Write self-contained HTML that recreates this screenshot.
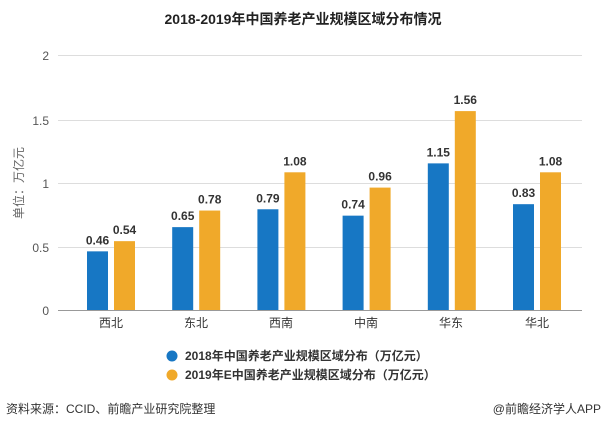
<!DOCTYPE html><html><head><meta charset="utf-8"><style>
body{margin:0;width:607px;height:430px;background:#fff;overflow:hidden;font-family:"Liberation Sans","Noto Sans CJK SC",sans-serif}
</style></head><body>
<svg width="607" height="430" xmlns="http://www.w3.org/2000/svg" font-family="Liberation Sans, Noto Sans CJK SC, sans-serif">
<text x="303" y="24" text-anchor="middle" font-size="14" font-weight="bold" fill="#222">2018-2019年中国养老产业规模区域分布情况</text>
<g stroke="#ddd" stroke-width="1">
<line x1="58" y1="55.5" x2="582" y2="55.5"/><line x1="58" y1="120.5" x2="582" y2="120.5"/><line x1="58" y1="183.5" x2="582" y2="183.5"/><line x1="58" y1="247.5" x2="582" y2="247.5"/>
</g>
<line x1="58" y1="310.5" x2="582" y2="310.5" stroke="#999"/>
<g font-size="12" fill="#555" text-anchor="end">
<text x="49" y="60">2</text><text x="49" y="125">1.5</text><text x="49" y="188">1</text><text x="49" y="252">0.5</text><text x="49" y="315">0</text>
</g>
<text transform="translate(23,183) rotate(-90)" text-anchor="middle" font-size="12" fill="#666">单位：万亿元</text>
<g id="bars"></g>
<g font-size="12" fill="#333" text-anchor="middle">
<text x="111" y="327">西北</text><text x="196" y="327">东北</text><text x="281" y="327">西南</text><text x="366" y="327">中南</text><text x="451" y="327">华东</text><text x="537" y="327">华北</text>
</g>
<circle cx="172" cy="356" r="5.5" fill="#1777c4"/><circle cx="172" cy="375" r="5.5" fill="#f0a92a"/>
<text x="185" y="360" font-size="12" font-weight="bold" fill="#333">2018年中国养老产业规模区域分布（万亿元）</text>
<text x="185" y="379" font-size="12" font-weight="bold" fill="#333">2019年E中国养老产业规模区域分布（万亿元）</text>
<text x="6" y="413" font-size="12" fill="#333">资料来源：CCID、前瞻产业研究院整理</text>
<text x="601" y="413" font-size="12" fill="#333" text-anchor="end">@前瞻经济学人APP</text>
</svg>
<script>
var d=[[0.46,0.54],[0.65,0.78],[0.79,1.08],[0.74,0.96],[1.15,1.56],[0.83,1.08]];
var g=document.getElementById('bars'),s='';
d.forEach(function(p,i){var c=111+85.2*i;[[c-24,p[0],'#1777c4'],[c+3,p[1],'#f0a92a']].forEach(function(b){var h=b[1]*127.5,y=310-h;
s+='<rect x="'+b[0]+'" y="'+y+'" width="21" height="'+h+'" fill="'+b[2]+'"/>';
s+='<text x="'+(b[0]+10.5)+'" y="'+(y-7)+'" text-anchor="middle" font-size="12" font-weight="bold" fill="#333">'+b[1].toFixed(2)+'</text>';});});
g.innerHTML=s;
</script>
</body></html>
